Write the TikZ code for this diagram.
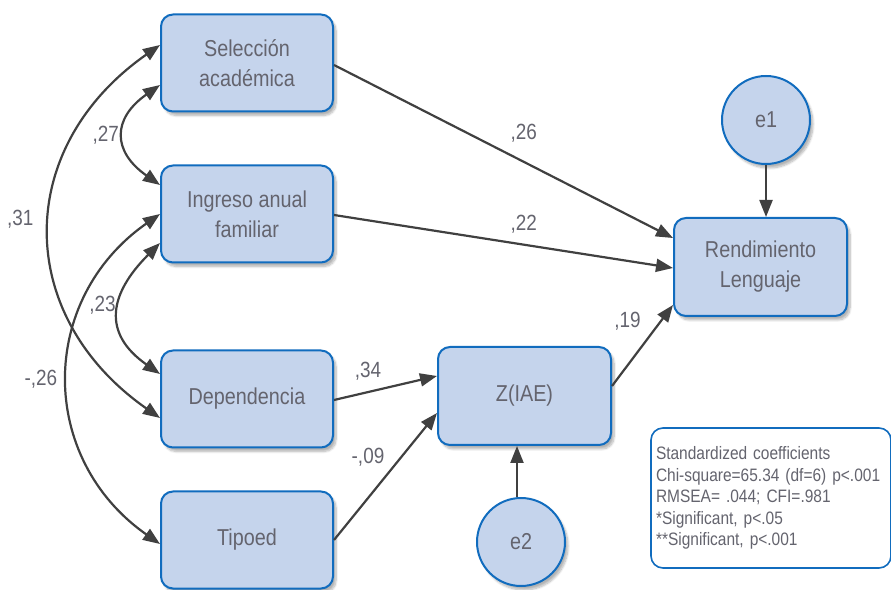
\documentclass[tikz,border=0pt]{standalone}
\usepackage{fontspec}
\setmainfont{Liberation Sans}[FakeStretch=0.86]
\usetikzlibrary{positioning, arrows.meta, shadows.blur}

\definecolor{boxfill}{RGB}{197,212,236}
\definecolor{boxline}{RGB}{17,108,190}
\definecolor{txtgray}{RGB}{100,100,110}
\definecolor{arrgray}{RGB}{64,64,64}

\begin{document}
\begin{tikzpicture}[x=1pt,y=1pt,font=\fontsize{23}{30}\selectfont]
\tikzstyle{every node}=[text=txtgray]
\tikzstyle{var}=[draw=boxline, line width=2pt, fill=boxfill, rounded corners=12pt,
  minimum width=172pt, minimum height=97pt, inner sep=0pt, align=center,
  blur shadow={shadow xshift=3pt, shadow yshift=-4pt, shadow opacity=30, shadow blur steps=8}]
\tikzstyle{err}=[var, circle, rounded corners=0pt, minimum size=88pt]
\tikzstyle{path}=[draw=arrgray, line width=2.2pt, -{Triangle[length=17pt,width=13pt]}]
\tikzstyle{cov}=[path, {Triangle[length=17pt,width=13pt]}-{Triangle[length=17pt,width=13pt]}]
\tikzstyle{coef}=[font=\fontsize{22}{26}\selectfont, inner sep=0pt]
\useasboundingbox (0,0) rectangle (891,589);

\node[var] (sel) at (247,526) {Selección\\académica};
\node[var, below of=sel, node distance=151pt] (ing) {Ingreso anual\\familiar};
\node[var, below of=ing, node distance=185pt] (dep) {Dependencia};
\node[var, below of=dep, node distance=141pt] (tip) {Tipoed};
\node[var, minimum width=173pt, minimum height=98pt] (zia) at (524.5,193) {Z(IAE)};
\node[var, minimum width=173pt, minimum height=98pt] (ren) at (760.5,322) {Rendimiento\\Lenguaje};
\node[err] (e1) at (766,469) {e1};
\node[err] (e2) at (521,47) {e2};
\node[draw=boxline, line width=1.6pt, rounded corners=12pt, fill=white,
  text width=230pt, minimum height=140pt, inner xsep=5pt, align=left,
  font=\fontsize{18}{21.5}\selectfont] (note) at (771,91)
  {Standardized coefficients\\Chi-square=65.34 (df=6) p<.001\\RMSEA= .044; CFI=.981\\{*}Significant, p<.05\\{**}Significant, p<.001};

% direct paths
\draw[path] ([yshift=-2pt]sel.east) -- ([yshift=29pt]ren.west) node[coef, pos=0.56, yshift=29pt] {,26};
\draw[path] ([yshift=-1pt]ing.east) -- ([yshift=-1pt]ren.west) node[coef, pos=0.56, yshift=20pt] {,22};
\draw[path] ([yshift=10pt]zia.east) -- ([yshift=-38pt]ren.west) node[coef, pos=0.5, xshift=-15pt, yshift=24pt] {,19};
\draw[path] ([yshift=-1pt]dep.east) -- ([yshift=20pt]zia.west) node[coef, pos=0.33, yshift=21pt] {,34};
\draw[path] (tip.east) -- ([yshift=-17pt]zia.west) node[coef, pos=0.33, yshift=41pt] {-,09};
\draw[path] (e1) -- (e1 |- ren.north);
\draw[path] ([xshift=-4pt]e2.north) -- ([xshift=-7.5pt]zia.south);

% correlations
\draw[cov] ([yshift=-22pt]sel.west) to[out=215, in=145, looseness=1.5] node[coef, left=4pt] {,27} ([yshift=29pt]ing.west);
\draw[cov] ([yshift=18pt]sel.west) to[out=215, in=145, looseness=1.23] node[coef, pos=0.47, left=16pt] {,31} ([yshift=-19pt]dep.west);
\draw[cov] ([yshift=-29pt]ing.west) to[out=225, in=145, looseness=1.4] node[coef, pos=0.45, left=3pt] {,23} ([yshift=25pt]dep.west);
\draw[cov] (ing.west) to[out=215, in=145, looseness=1.16] node[coef, pos=0.5, left=10pt] {-,26} ([yshift=-4pt]tip.west);
\end{tikzpicture}
\end{document}
